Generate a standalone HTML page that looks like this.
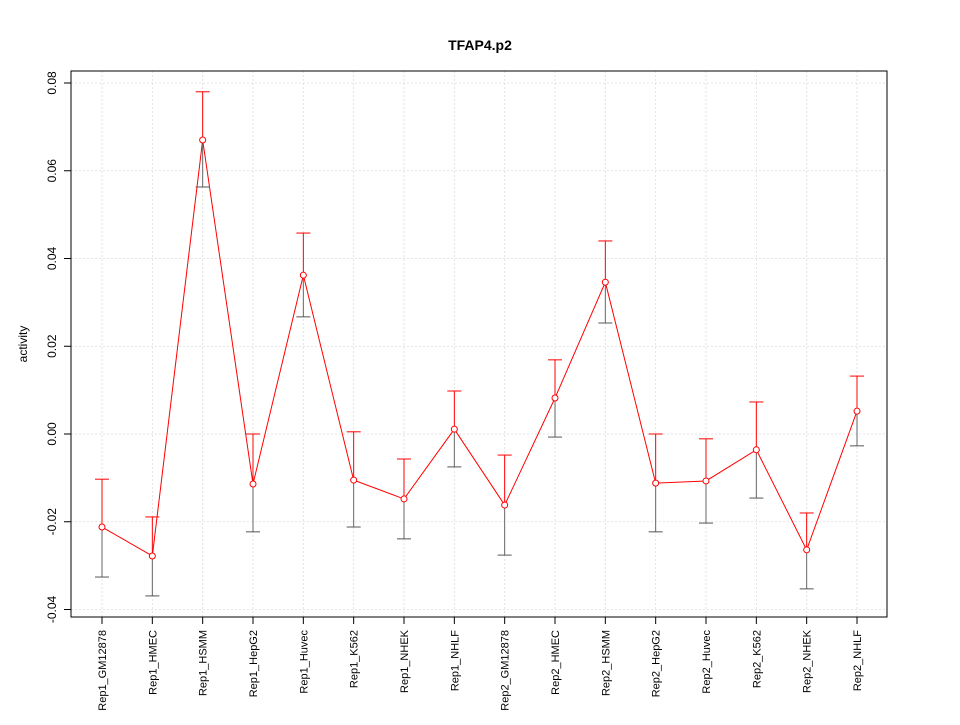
<!DOCTYPE html>
<html><head><meta charset="utf-8"><style>
body{margin:0;background:#fff}
svg{font-family:"Liberation Sans",sans-serif}
</style></head><body>
<svg id="c" width="960" height="720">
<text x="480" y="50" text-anchor="middle" font-size="14" font-weight="bold">TFAP4.p2</text>
<text transform="translate(27,344) rotate(-90)" text-anchor="middle" font-size="12">activity</text>
<g id="g"></g>
<rect x="71" y="71" width="816" height="546" fill="none" stroke="#000"/>
</svg>
<script>
const categories=["Rep1_GM12878","Rep1_HMEC","Rep1_HSMM","Rep1_HepG2","Rep1_Huvec","Rep1_K562","Rep1_NHEK","Rep1_NHLF","Rep2_GM12878","Rep2_HMEC","Rep2_HSMM","Rep2_HepG2","Rep2_Huvec","Rep2_K562","Rep2_NHEK","Rep2_NHLF"];
const values=[-0.0212,-0.0278,0.067,-0.0114,0.0362,-0.0105,-0.0148,0.0011,-0.0162,0.0082,0.0346,-0.0112,-0.0107,-0.0036,-0.0264,0.0052];
const upper=[-0.0103,-0.0189,0.078,0,0.0458,0.0005,-0.0057,0.0098,-0.0048,0.0169,0.044,0,-0.0011,0.0073,-0.018,0.0132];
const lower=[-0.0326,-0.0369,0.0563,-0.0223,0.0267,-0.0212,-0.0239,-0.0075,-0.0276,-0.0007,0.0253,-0.0223,-0.0203,-0.0146,-0.0353,-0.0027];
const yTicks=[-0.04,-0.02,0.00,0.02,0.04,0.06,0.08];
const yTickLabels=["-0.04","-0.02","0.00","0.02","0.04","0.06","0.08"];
const NS="http://www.w3.org/2000/svg",g=document.getElementById('g');
const X=i=>102+i*(857-102)/(categories.length-1);
const Y=v=>434-v*4387.5;
function el(t,a){const e=document.createElementNS(NS,t);for(const k in a)e.setAttribute(k,a[k]);g.appendChild(e);return e;}
yTicks.forEach((v,i)=>{
 let l=el('line',{x1:71,x2:887,y1:Y(v),y2:Y(v),stroke:'#ddd','stroke-width':0.8,'stroke-dasharray':'2,2'});
 
 
 let t=el('line',{x1:64,x2:71,y1:Y(v),y2:Y(v),stroke:'#000'});
 
 
 let tx=el('text',{x:0,y:0,'font-size':12,'text-anchor':'middle',transform:`translate(56,${Y(v)}) rotate(-90)`});
 tx.textContent=yTickLabels[i];
 
 
});
categories.forEach((c,i)=>{
 let l=el('line',{x1:X(i),x2:X(i),y1:71,y2:617,stroke:'#ddd','stroke-width':0.8,'stroke-dasharray':'2,2'});
 
 
 let t=el('line',{x1:X(i),x2:X(i),y1:617,y2:624,stroke:'#000'});
 
 
 let tx=el('text',{x:0,y:0,'font-size':11,'text-anchor':'end',transform:`translate(${X(i)+4},630) rotate(-90)`});
 tx.textContent=c;
 
 
});
let pl=el('polyline',{points:values.map((v,i)=>X(i)+','+Y(v)).join(' '),fill:'none',stroke:'#f00','stroke-width':1});


values.forEach((v,i)=>{
 const x=X(i);
 let a=el('line',{x1:x,x2:x,y1:Y(upper[i]),y2:Y(v),stroke:'#f00','stroke-width':1});
 
 
 let b=el('line',{x1:x,x2:x,y1:Y(v),y2:Y(lower[i]),stroke:'#666','stroke-width':1});
 
 
 let c1=el('line',{x1:x-7,x2:x+7,y1:Y(upper[i]),y2:Y(upper[i]),stroke:'#f00','stroke-width':1});
 
 
 let c2=el('line',{x1:x-7,x2:x+7,y1:Y(lower[i]),y2:Y(lower[i]),stroke:'#555','stroke-width':1});
 
 
 let p=el('circle',{cx:x,cy:Y(v),r:3,fill:'#fff',stroke:'#f00','stroke-width':1});
 
 
});
</script>
</body></html>
